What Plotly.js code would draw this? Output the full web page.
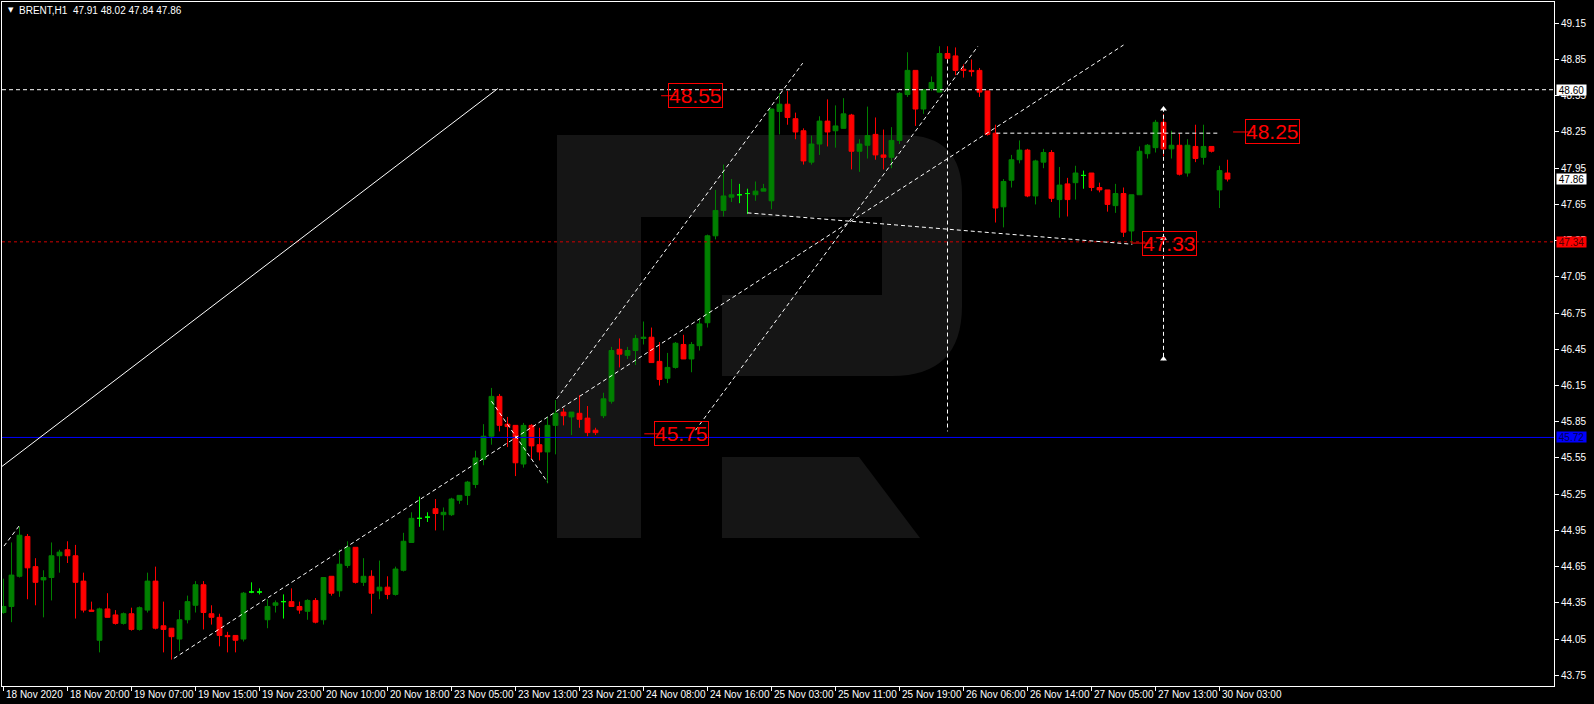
<!DOCTYPE html>
<html><head><meta charset="utf-8">
<script src="https://cdn.plot.ly/plotly-3.0.1.min.js"></script>
<style>html,body{margin:0;padding:0;background:#000;}#chart{width:1594px;height:704px;}</style>
</head><body><div id="chart"></div>
<script>
// ---------- data ----------
const symbol = 'BRENT,H1';
const tickLabels = ['18 Nov 2020','18 Nov 20:00','19 Nov 07:00','19 Nov 15:00','19 Nov 23:00','20 Nov 10:00','20 Nov 18:00','23 Nov 05:00','23 Nov 13:00','23 Nov 21:00','24 Nov 08:00','24 Nov 16:00','25 Nov 03:00','25 Nov 11:00','25 Nov 19:00','26 Nov 06:00','26 Nov 14:00','27 Nov 05:00','27 Nov 13:00','30 Nov 03:00'];
const barsPerLabel = 8;

const open = [44.27,44.32,44.57,44.90,44.65,44.54,44.56,44.74,44.79,44.74,
44.53,44.29,44.04,44.30,44.25,44.18,44.26,44.13,44.29,44.53,
44.16,44.14,44.05,44.21,44.33,44.50,44.26,44.23,44.08,44.08,
44.05,44.44,44.44,44.21,44.33,44.36,44.36,44.32,44.28,44.37,
44.21,44.57,44.45,44.66,44.81,44.52,44.57,44.45,44.48,44.42,
44.62,44.85,45.05,45.06,45.13,45.08,45.08,45.20,45.24,45.33,
45.54,45.73,46.06,45.83,45.82,45.50,45.82,45.66,45.60,45.82,
45.93,45.89,45.92,45.88,45.78,45.90,46.02,46.45,46.40,46.44,
46.54,46.55,46.35,46.21,46.30,46.49,46.37,46.48,46.67,47.39,
47.60,47.71,47.73,47.74,47.73,47.76,47.68,48.42,48.48,48.36,
48.26,48.00,48.15,48.34,48.26,48.28,48.39,48.09,48.14,48.23,
48.06,48.04,48.18,48.56,48.76,48.44,48.61,48.58,48.90,48.88,
48.77,48.76,48.76,48.59,48.24,47.63,47.85,48.02,48.10,47.72,
48.00,48.08,47.69,47.82,47.83,47.89,47.91,47.79,47.77,47.64,
47.74,47.43,47.73,48.07,48.12,48.33,48.11,48.14,47.91,48.13,
48.04,48.13,47.77,47.91];
const high = [44.55,44.85,44.98,44.92,44.72,44.62,44.85,44.79,44.86,44.83,
44.60,44.36,44.31,44.43,44.29,44.27,44.31,44.32,44.60,44.65,
44.36,44.14,44.29,44.41,44.53,44.53,44.33,44.26,44.11,44.08,
44.44,44.52,44.47,44.38,44.37,44.42,44.47,44.36,44.38,44.39,
44.56,44.57,44.79,44.86,44.81,44.72,44.62,44.70,44.57,44.65,
44.93,45.10,45.23,45.10,45.21,45.14,45.22,45.24,45.36,45.61,
45.83,46.13,46.08,45.89,45.82,45.84,45.83,45.80,45.89,46.03,
45.96,45.93,46.07,45.98,45.80,46.09,46.47,46.54,46.47,46.57,
46.68,46.63,46.51,46.42,46.51,46.57,46.51,46.70,47.40,47.77,
47.98,47.86,47.82,47.78,47.84,47.82,48.44,48.57,48.59,48.41,
48.28,48.22,48.38,48.52,48.47,48.53,48.40,48.19,48.46,48.37,
48.27,48.29,48.58,48.91,48.76,48.60,48.71,48.96,48.96,48.95,
48.81,48.85,48.78,48.59,48.31,47.86,48.06,48.18,48.11,48.02,
48.11,48.10,47.96,47.87,47.97,47.93,47.91,47.83,47.77,47.82,
47.79,47.73,48.13,48.15,48.35,48.40,48.26,48.24,48.19,48.31,
48.31,48.13,47.97,48.02];
const low = [44.26,44.19,44.56,44.38,44.33,44.23,44.37,44.60,44.68,44.22,
44.27,44.28,43.94,44.23,44.17,44.17,44.12,44.12,44.27,44.13,
43.94,43.88,43.95,44.18,44.27,44.13,44.17,43.99,43.94,43.94,
44.03,44.43,44.42,44.14,44.27,44.22,44.32,44.26,44.21,44.18,
44.17,44.41,44.40,44.64,44.51,44.49,44.26,44.38,44.38,44.41,
44.61,44.85,44.98,45.02,44.95,44.95,45.07,45.17,45.16,45.30,
45.49,45.66,45.77,45.64,45.40,45.47,45.54,45.53,45.34,45.58,
45.82,45.74,45.80,45.73,45.74,45.88,46.00,46.30,46.37,46.32,
46.49,46.34,46.15,46.17,46.29,46.37,46.26,46.44,46.63,47.36,
47.55,47.67,47.66,47.57,47.68,47.76,47.61,48.23,48.31,48.19,
47.98,47.98,48.06,48.13,48.12,48.28,47.94,47.92,48.03,48.02,
47.94,47.95,48.15,48.54,48.30,48.40,48.59,48.58,48.83,48.72,
48.70,48.71,48.54,48.22,47.50,47.46,47.79,47.99,47.71,47.65,
47.95,47.67,47.54,47.55,47.69,47.78,47.76,47.75,47.59,47.58,
47.38,47.33,47.73,48.03,48.08,48.05,48.03,47.89,47.88,48.00,
47.98,48.08,47.62,47.84];
const close = [44.32,44.58,44.91,44.64,44.52,44.56,44.74,44.77,44.74,44.52,
44.29,44.28,44.30,44.23,44.18,44.26,44.13,44.31,44.53,44.14,
44.13,44.07,44.21,44.36,44.50,44.27,44.23,44.08,44.07,44.04,
44.43,44.44,44.44,44.32,44.35,44.36,44.32,44.29,44.37,44.19,
44.56,44.43,44.67,44.81,44.52,44.57,44.43,44.48,44.42,44.63,
44.86,45.05,45.05,45.06,45.09,45.10,45.21,45.24,45.35,45.55,
45.73,46.06,45.82,45.81,45.51,45.82,45.65,45.60,45.82,45.92,
45.90,45.93,45.87,45.76,45.76,46.04,46.44,46.41,46.44,46.54,
46.55,46.34,46.20,46.30,46.50,46.37,46.49,46.66,47.39,47.60,
47.72,47.73,47.73,47.74,47.76,47.78,48.44,48.48,48.37,48.25,
48.01,48.15,48.34,48.25,48.30,48.40,48.09,48.15,48.22,48.06,
48.04,48.18,48.57,48.76,48.44,48.60,48.66,48.90,48.86,48.76,
48.76,48.75,48.58,48.23,47.62,47.84,48.02,48.10,47.72,48.01,
48.08,47.70,47.81,47.69,47.91,47.89,47.79,47.77,47.65,47.74,
47.42,47.73,48.09,48.14,48.33,48.11,48.14,47.90,48.14,48.03,
48.13,48.09,47.93,47.86];

// horizontal levels and their axis tags
const levelWhite = 48.60, levelRed = 47.34, levelBlue = 45.72;
const currentPrice = 47.86;
// price labels drawn on the chart (text, bar at left edge of the box, dash start bar)
const priceLabelTexts = ['48.55','45.75','48.25','47.33'];
const priceLabelValues = [48.55, 45.75, 48.25, 47.33];
const priceLabelBars = [83.1, 81.3, 155.2, 142.3];
const priceLabelDashFrom = [82.2, 80.1, 153.7, 141.0];
// trend lines: [bar0, price0, bar1, price1]
const solidTrend = [-0.19, 45.48, 61.8, 48.61];
const dashedTrends = [
  [21.3, 43.89, 140.0, 48.97],
  [69.15, 46.04, 99.9, 48.82],
  [61.0, 46.02, 68.0, 45.35],
  [86.5, 45.78, 121.8, 48.96],
  [93.0, 47.58, 141.1, 47.32],
  [124.1, 48.24, 151.8, 48.24],
  [0.06, 44.82, 1.98, 44.99],
  [118.0, 48.85, 118.0, 45.77],
  [145.0, 48.45, 145.0, 46.36]
];
const arrowBars = [145, 145, 145];
const arrowPrices = [48.44, 47.37, 46.37];

// ---------- geometry ----------
const L = 2, R = 1554, T = 2, B = 686, W = 1594, H = 704;
const pxPerBar = 8, x0pix = 3.5;
const yRef = 23.3, pRef = 49.15, pxPerUnit = 120.74;
const xr = [(L - x0pix) / pxPerBar, (R - x0pix) / pxPerBar];
const yr = [pRef - (B - yRef) / pxPerUnit, pRef + (yRef - T) / pxPerUnit];

const idx = open.map((_, i) => i);
const isDoji = idx.map(i => open[i] === close[i]);
const pick = (arr, f) => arr.filter((_, i) => f(i));
const normal = i => !isDoji[i];
const doji = i => isDoji[i];

const traces = [
  {type:'candlestick', x:pick(idx,normal), open:pick(open,normal), high:pick(high,normal), low:pick(low,normal), close:pick(close,normal),
   increasing:{line:{color:'#008000', width:1}, fillcolor:'#008000'},
   decreasing:{line:{color:'#ff0000', width:1}, fillcolor:'#ff0000'},
   whiskerwidth:0, hoverinfo:'skip', showlegend:false},
  {type:'candlestick', x:pick(idx,doji), open:pick(open,doji), high:pick(high,doji), low:pick(low,doji), close:pick(close,doji),
   increasing:{line:{color:'#00ff00', width:1}, fillcolor:'#00ff00'},
   decreasing:{line:{color:'#00ff00', width:1}, fillcolor:'#00ff00'},
   whiskerwidth:0, hoverinfo:'skip', showlegend:false},
  {type:'scatter', mode:'markers', x:arrowBars, y:arrowPrices,
   marker:{symbol:'triangle-up', size:6, color:'#ffffff'}, hoverinfo:'skip', showlegend:false}
];

// logo (watermark) in paper coords
const P = (x, y) => ((x - L) / (R - L)).toFixed(5) + ',' + (1 - (y - T) / (B - T)).toFixed(5);
const logo1 = `M${P(557,135)} L${P(903,135)} Q${P(962,135)} ${P(962,194)} L${P(962,306)} Q${P(962,376)} ${P(892,376)} L${P(722,376)} L${P(722,295)} L${P(882,295)} L${P(882,217)} L${P(641,217)} L${P(641,538)} L${P(557,538)} Z`;
const logo2 = `M${P(722,457)} L${P(859,457)} L${P(920,538)} L${P(722,538)} Z`;

const shapes = [
  {type:'path', xref:'paper', yref:'paper', path:logo1, fillcolor:'#151515', line:{width:0}, layer:'below'},
  {type:'path', xref:'paper', yref:'paper', path:logo2, fillcolor:'#151515', line:{width:0}, layer:'below'},
  {type:'line', xref:'paper', x0:0, x1:1, yref:'y', y0:levelWhite, y1:levelWhite, line:{color:'#ffffff', width:1, dash:'4px,3px'}},
  {type:'line', xref:'paper', x0:0, x1:1, yref:'y', y0:levelRed, y1:levelRed, line:{color:'#d00000', width:1, dash:'3px,3px'}},
  {type:'line', xref:'paper', x0:0, x1:1, yref:'y', y0:levelBlue, y1:levelBlue, line:{color:'#0000ff', width:1}},
  {type:'line', xref:'x', yref:'y', x0:solidTrend[0], y0:solidTrend[1], x1:solidTrend[2], y1:solidTrend[3], line:{color:'#ffffff', width:1}}
];
dashedTrends.forEach(t => shapes.push({type:'line', xref:'x', yref:'y', x0:t[0], y0:t[1], x1:t[2], y1:t[3], line:{color:'#ffffff', width:1, dash:'4px,3px'}}));
priceLabelValues.forEach((v, i) => shapes.push({type:'line', xref:'x', yref:'y', x0:priceLabelDashFrom[i], x1:priceLabelBars[i] + 1.2, y0:v, y1:v, line:{color:'#ff0000', width:1}}));

const FONT = 'Liberation Sans, Arial, sans-serif';
const annotations = [];
priceLabelTexts.forEach((t, i) => annotations.push({
  xref:'x', yref:'y', x:priceLabelBars[i], y:priceLabelValues[i], xanchor:'left', yanchor:'middle',
  text:t, showarrow:false, font:{family:FONT, size:21, color:'#ff0000'},
  bordercolor:'#ff0000', borderwidth:1, borderpad:0
}));
// time labels: left-aligned just right of each tick, like the terminal does
tickLabels.forEach((t, i) => annotations.push({
  xref:'x', yref:'paper', x:i * barsPerLabel, y:0, xanchor:'left', yanchor:'top', xshift:0, yshift:-1,
  text:t, showarrow:false, font:{family:FONT, size:10, color:'#ffffff'}
}));
const tag = (price, bg, fg) => ({xref:'paper', x:1, xshift:2, xanchor:'left', yref:'y', y:price, yanchor:'middle',
  text:price.toFixed(2), showarrow:false, bgcolor:bg, font:{family:FONT, size:10, color:fg}, width:29, height:10, borderpad:0});
annotations.push(tag(levelWhite, '#ffffff', '#000000'));
annotations.push(tag(currentPrice, '#ffffff', '#000000'));
annotations.push(tag(levelRed, '#ff0000', '#500000'));
annotations.push(tag(levelBlue, '#0000ff', '#000050'));
const last = open.length - 1;
annotations.push({xref:'paper', yref:'paper', x:(6 - L) / (R - L), y:1 - (10 - T) / (B - T), xanchor:'left', yanchor:'middle',
  text:'▼', showarrow:false, font:{family:'DejaVu Sans', size:7, color:'#ffffff'}});
annotations.push({xref:'paper', yref:'paper', x:(17 - L) / (R - L), y:1 - (10 - T) / (B - T), xanchor:'left', yanchor:'middle',
  text:`${symbol}  ${open[last].toFixed(2)} ${high[last].toFixed(2)} ${low[last].toFixed(2)} ${close[last].toFixed(2)}`,
  showarrow:false, font:{family:FONT, size:10, color:'#ffffff'}});

const layout = {
  width:W, height:H, paper_bgcolor:'#000000', plot_bgcolor:'#000000',
  margin:{l:L, r:W - R, t:T, b:H - B, pad:0}, showlegend:false, hovermode:false,
  boxgap:0.4, boxgroupgap:0,
  font:{family:FONT, size:10, color:'#ffffff'},
  xaxis:{range:xr, rangeslider:{visible:false}, showgrid:false, zeroline:false, showline:true, mirror:true,
    linecolor:'#ffffff', linewidth:1, ticks:'outside', ticklen:4, tickcolor:'#ffffff', tickwidth:1,
    tickvals:tickLabels.map((_, i) => i * barsPerLabel), showticklabels:false, fixedrange:true},
  yaxis:{range:yr, side:'right', showgrid:false, zeroline:false, showline:true, mirror:true,
    linecolor:'#ffffff', linewidth:1, ticks:'outside', ticklen:4, tickcolor:'#ffffff', tickwidth:1,
    tick0:43.75, dtick:0.3, tickformat:'.2f', tickfont:{family:FONT, size:10, color:'#ffffff'}, fixedrange:true},
  shapes:shapes, annotations:annotations
};
Plotly.newPlot('chart', traces, layout, {displayModeBar:false, staticPlot:true});
</script>
</body></html>
